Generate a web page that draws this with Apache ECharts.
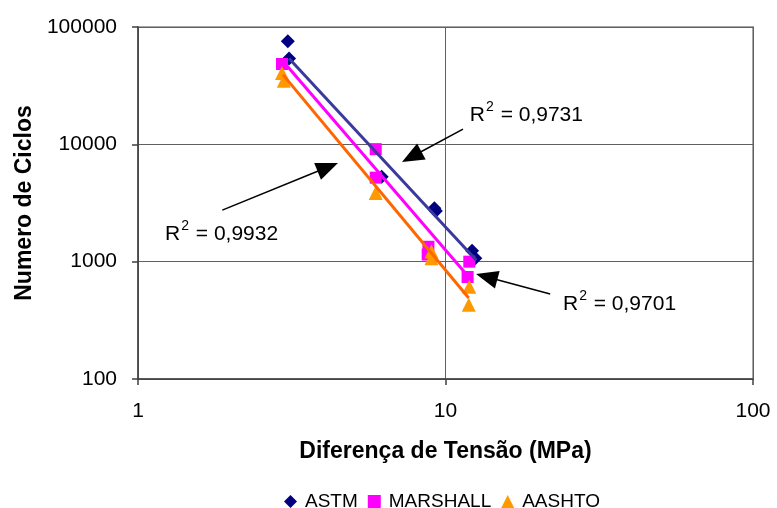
<!DOCTYPE html>
<html>
<head>
<meta charset="utf-8">
<script src="https://cdn.jsdelivr.net/npm/echarts@6/dist/echarts.min.js"></script>
<style>
  html, body { margin: 0; padding: 0; background: #ffffff; }
  #chart { width: 777px; height: 508px; }
</style>
</head>
<body>
<div id="chart"></div>
<script>
// Fatigue test results: cycles to failure against stress difference (log-log)
const seriesNames = ['ASTM', 'MARSHALL', 'AASHTO'];

// measured points [stress difference (MPa), number of cycles]
const astmPoints = [[3.07, 75500], [3.1, 54000], [6.2, 5300], [9.2, 2850], [9.3, 2700], [12.2, 1240], [12.5, 1070]];
const marshallPoints = [[2.94, 48400], [5.93, 9100], [5.93, 5200], [8.8, 1340], [8.75, 1150], [11.95, 1000], [11.8, 740]];
const aashtoPoints = [[2.94, 40500], [2.98, 34800], [5.93, 3850], [9.0, 1220], [9.0, 1070], [11.95, 610], [11.9, 430]];

// power-law trend lines (end points)
const astmTrend = [[3.1, 54000], [12.6, 1030]];
const marshallTrend = [[3.03, 47700], [11.6, 800]];
const aashtoTrend = [[2.96, 39300], [11.9, 490]];

// R² annotations: value, text anchor, arrow tail, arrow tip (data coordinates)
const r2Values = ['0,9731', '0,9932', '0,9701'];
const r2TextAt = [[12.0, 18500], [1.224, 1789], [24.1, 453]];
const arrowFrom = [[11.4, 13500], [1.88, 2750], [21.9, 530]];
const arrowTo = [[7.22, 7070], [4.47, 6930], [12.57, 785]];

const FONT = '"Liberation Sans", Arial, Helvetica, sans-serif';
const markerColors = ['#000080', '#FF00FF', '#FF9900'];
const trendColors = ['#3A3A9C', '#FF00FF', '#FF6600'];
const symbols = ['diamond', 'rect', 'triangle'];
const symbolSizes = [14, 12, 14];

const chart = echarts.init(document.getElementById('chart'), null, { renderer: 'canvas' });

const pointSets = [astmPoints, marshallPoints, aashtoPoints];
const trendSets = [astmTrend, marshallTrend, aashtoTrend];

const series = [];
pointSets.forEach((pts, i) => {
  series.push({
    name: seriesNames[i],
    type: 'scatter',
    data: pts,
    symbol: symbols[i],
    symbolSize: symbolSizes[i],
    itemStyle: { color: markerColors[i], opacity: 1 },
    z: 3,
    silent: true
  });
});
trendSets.forEach((pts, i) => {
  series.push({
    name: seriesNames[i] + ' trend',
    type: 'line',
    data: pts,
    showSymbol: false,
    symbol: 'none',
    lineStyle: { color: trendColors[i], width: 3 },
    z: 4,
    silent: true
  });
});

const plainNumber = v => String(Math.round(v));

const option = {
  animation: false,
  backgroundColor: '#ffffff',
  grid: {
    left: 138, right: 24, top: 27, bottom: 129,
    show: true, borderColor: '#a6a6a6', borderWidth: 2, backgroundColor: '#ffffff'
  },
  legend: {
    data: seriesNames,
    left: 279, top: 487,
    itemWidth: 13, itemHeight: 13, itemGap: 10,
    textStyle: { fontFamily: FONT, fontSize: 19, color: '#000000', padding: [0, 0, 0, 3] },
    selectedMode: false
  },
  xAxis: {
    type: 'log', logBase: 10, min: 1, max: 100,
    name: 'Diferença de Tensão (MPa)',
    nameLocation: 'middle', nameGap: 61,
    nameTextStyle: { fontFamily: FONT, fontSize: 23, fontWeight: 'bold', color: '#000000' },
    axisLine: { show: true, lineStyle: { color: '#404040', width: 1.5 } },
    axisTick: { show: true, length: 6, lineStyle: { color: '#404040', width: 1.5 } },
    axisLabel: { fontFamily: FONT, fontSize: 21, color: '#000000', margin: 22, formatter: plainNumber },
    splitLine: { show: true, lineStyle: { color: '#606060', width: 1 } }
  },
  yAxis: {
    type: 'log', logBase: 10, min: 100, max: 100000,
    name: 'Numero de Ciclos',
    nameLocation: 'middle', nameGap: 100, nameRotate: 90,
    nameTextStyle: { fontFamily: FONT, fontSize: 23, fontWeight: 'bold', color: '#000000' },
    axisLine: { show: true, lineStyle: { color: '#404040', width: 1.5 } },
    axisTick: { show: true, length: 6, lineStyle: { color: '#404040', width: 1.5 } },
    axisLabel: { fontFamily: FONT, fontSize: 21, color: '#000000', margin: 21, formatter: plainNumber },
    splitLine: { show: true, lineStyle: { color: '#606060', width: 1 } }
  },
  series: series
};

chart.setOption(option);

// R² labels and their arrows, placed through the axis scales
const toPx = c => chart.convertToPixel({ gridIndex: 0 }, c);
const graphics = [];
r2Values.forEach((v, i) => {
  const p = toPx(r2TextAt[i]);
  graphics.push({
    type: 'text',
    x: p[0], y: p[1],
    silent: true,
    z: 10,
    style: {
      text: '{r|R}{s|2}{r| = ' + v + '}',
      verticalAlign: 'middle',
      align: 'left',
      rich: {
        r: { fontFamily: FONT, fontSize: 21, color: '#000000', lineHeight: 26, verticalAlign: 'bottom' },
        s: { fontFamily: FONT, fontSize: 14, color: '#000000', lineHeight: 14, verticalAlign: 'top', padding: [0, 1, 0, 1] }
      }
    }
  });

  const a = toPx(arrowFrom[i]);
  const b = toPx(arrowTo[i]);
  const dx = b[0] - a[0], dy = b[1] - a[1];
  const len = Math.sqrt(dx * dx + dy * dy);
  const ux = dx / len, uy = dy / len;
  const headLen = 22, headHalf = 9;
  const bx = b[0] - ux * headLen, by = b[1] - uy * headLen;
  graphics.push({
    type: 'line', silent: true, z: 10,
    shape: { x1: a[0], y1: a[1], x2: bx + ux * 2, y2: by + uy * 2 },
    style: { stroke: '#000000', lineWidth: 1.5 }
  });
  graphics.push({
    type: 'polygon', silent: true, z: 10,
    shape: { points: [[b[0], b[1]], [bx - uy * headHalf, by + ux * headHalf], [bx + uy * headHalf, by - ux * headHalf]] },
    style: { fill: '#000000' }
  });
});
chart.setOption({ graphic: graphics });
</script>
</body>
</html>
